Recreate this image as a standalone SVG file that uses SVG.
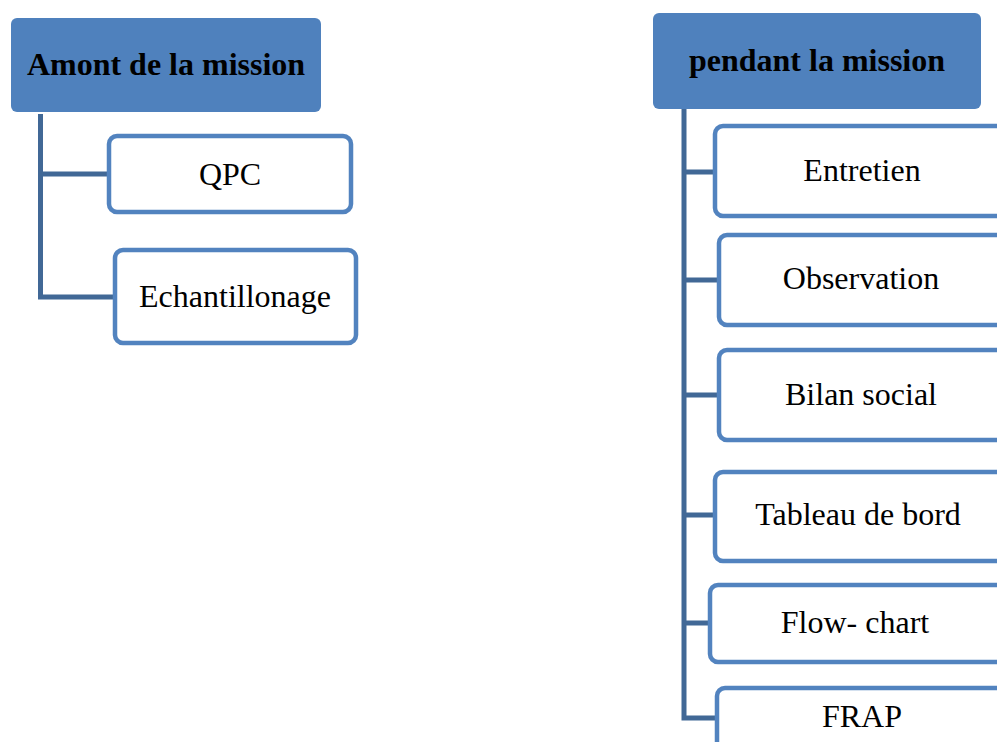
<svg xmlns="http://www.w3.org/2000/svg" width="997" height="742" viewBox="0 0 997 742">
  <style>
    .head { fill: #4F81BD; }
    .head-t { font-family: "Liberation Serif", "Times New Roman", serif; font-size: 32px; font-weight: bold; fill: #000; text-anchor: middle; }
    .item { fill: #fff; stroke: #5283BF; stroke-width: 4.5; }
    .item-t { font-family: "Liberation Serif", "Times New Roman", serif; font-size: 32px; fill: #000; text-anchor: middle; }
    .link { fill: none; stroke: #416896; stroke-width: 5; stroke-linecap: butt; stroke-linejoin: miter; }
  </style>
  <rect width="997" height="742" fill="#fff"/>

  <!-- tree connectors -->
  <g id="connectors">
    <path class="link" d="M40.5 114 V297 H114 M40.5 174 H109"/>
    <path class="link" d="M684 109 V718 H716 M684 172 H714 M684 280 H718 M684 395 H718 M684 515 H714 M684 623 H709"/>
  </g>

  <!-- left column -->
  <g id="amont">
    <rect class="head" x="11" y="18" width="310" height="94" rx="6"/>
    <text class="head-t" x="166" y="75">Amont de la mission</text>
  </g>
  <g id="qpc">
    <rect class="item" x="109" y="136" width="242" height="76" rx="8"/>
    <text class="item-t" x="230" y="185">QPC</text>
  </g>
  <g id="echantillonage">
    <rect class="item" x="115" y="250" width="241" height="93" rx="8"/>
    <text class="item-t" x="235" y="307">Echantillonage</text>
  </g>

  <!-- right column -->
  <g id="pendant">
    <rect class="head" x="653" y="13" width="328" height="96" rx="6"/>
    <text class="head-t" x="817" y="71">pendant la mission</text>
  </g>
  <g id="entretien">
    <rect class="item" x="715" y="126" width="296" height="90" rx="8"/>
    <text class="item-t" x="862" y="181">Entretien</text>
  </g>
  <g id="observation">
    <rect class="item" x="719" y="235" width="290" height="90" rx="8"/>
    <text class="item-t" x="861" y="289">Observation</text>
  </g>
  <g id="bilan-social">
    <rect class="item" x="719" y="350" width="290" height="90" rx="8"/>
    <text class="item-t" x="861" y="405">Bilan social</text>
  </g>
  <g id="tableau-de-bord">
    <rect class="item" x="715" y="472" width="290" height="89" rx="8"/>
    <text class="item-t" x="858" y="525">Tableau de bord</text>
  </g>
  <g id="flow-chart">
    <rect class="item" x="710" y="585" width="295" height="77" rx="8"/>
    <text class="item-t" x="855" y="633">Flow- chart</text>
  </g>
  <g id="frap">
    <rect class="item" x="717" y="688" width="295" height="80" rx="8"/>
    <text class="item-t" x="862" y="727">FRAP</text>
  </g>
</svg>
